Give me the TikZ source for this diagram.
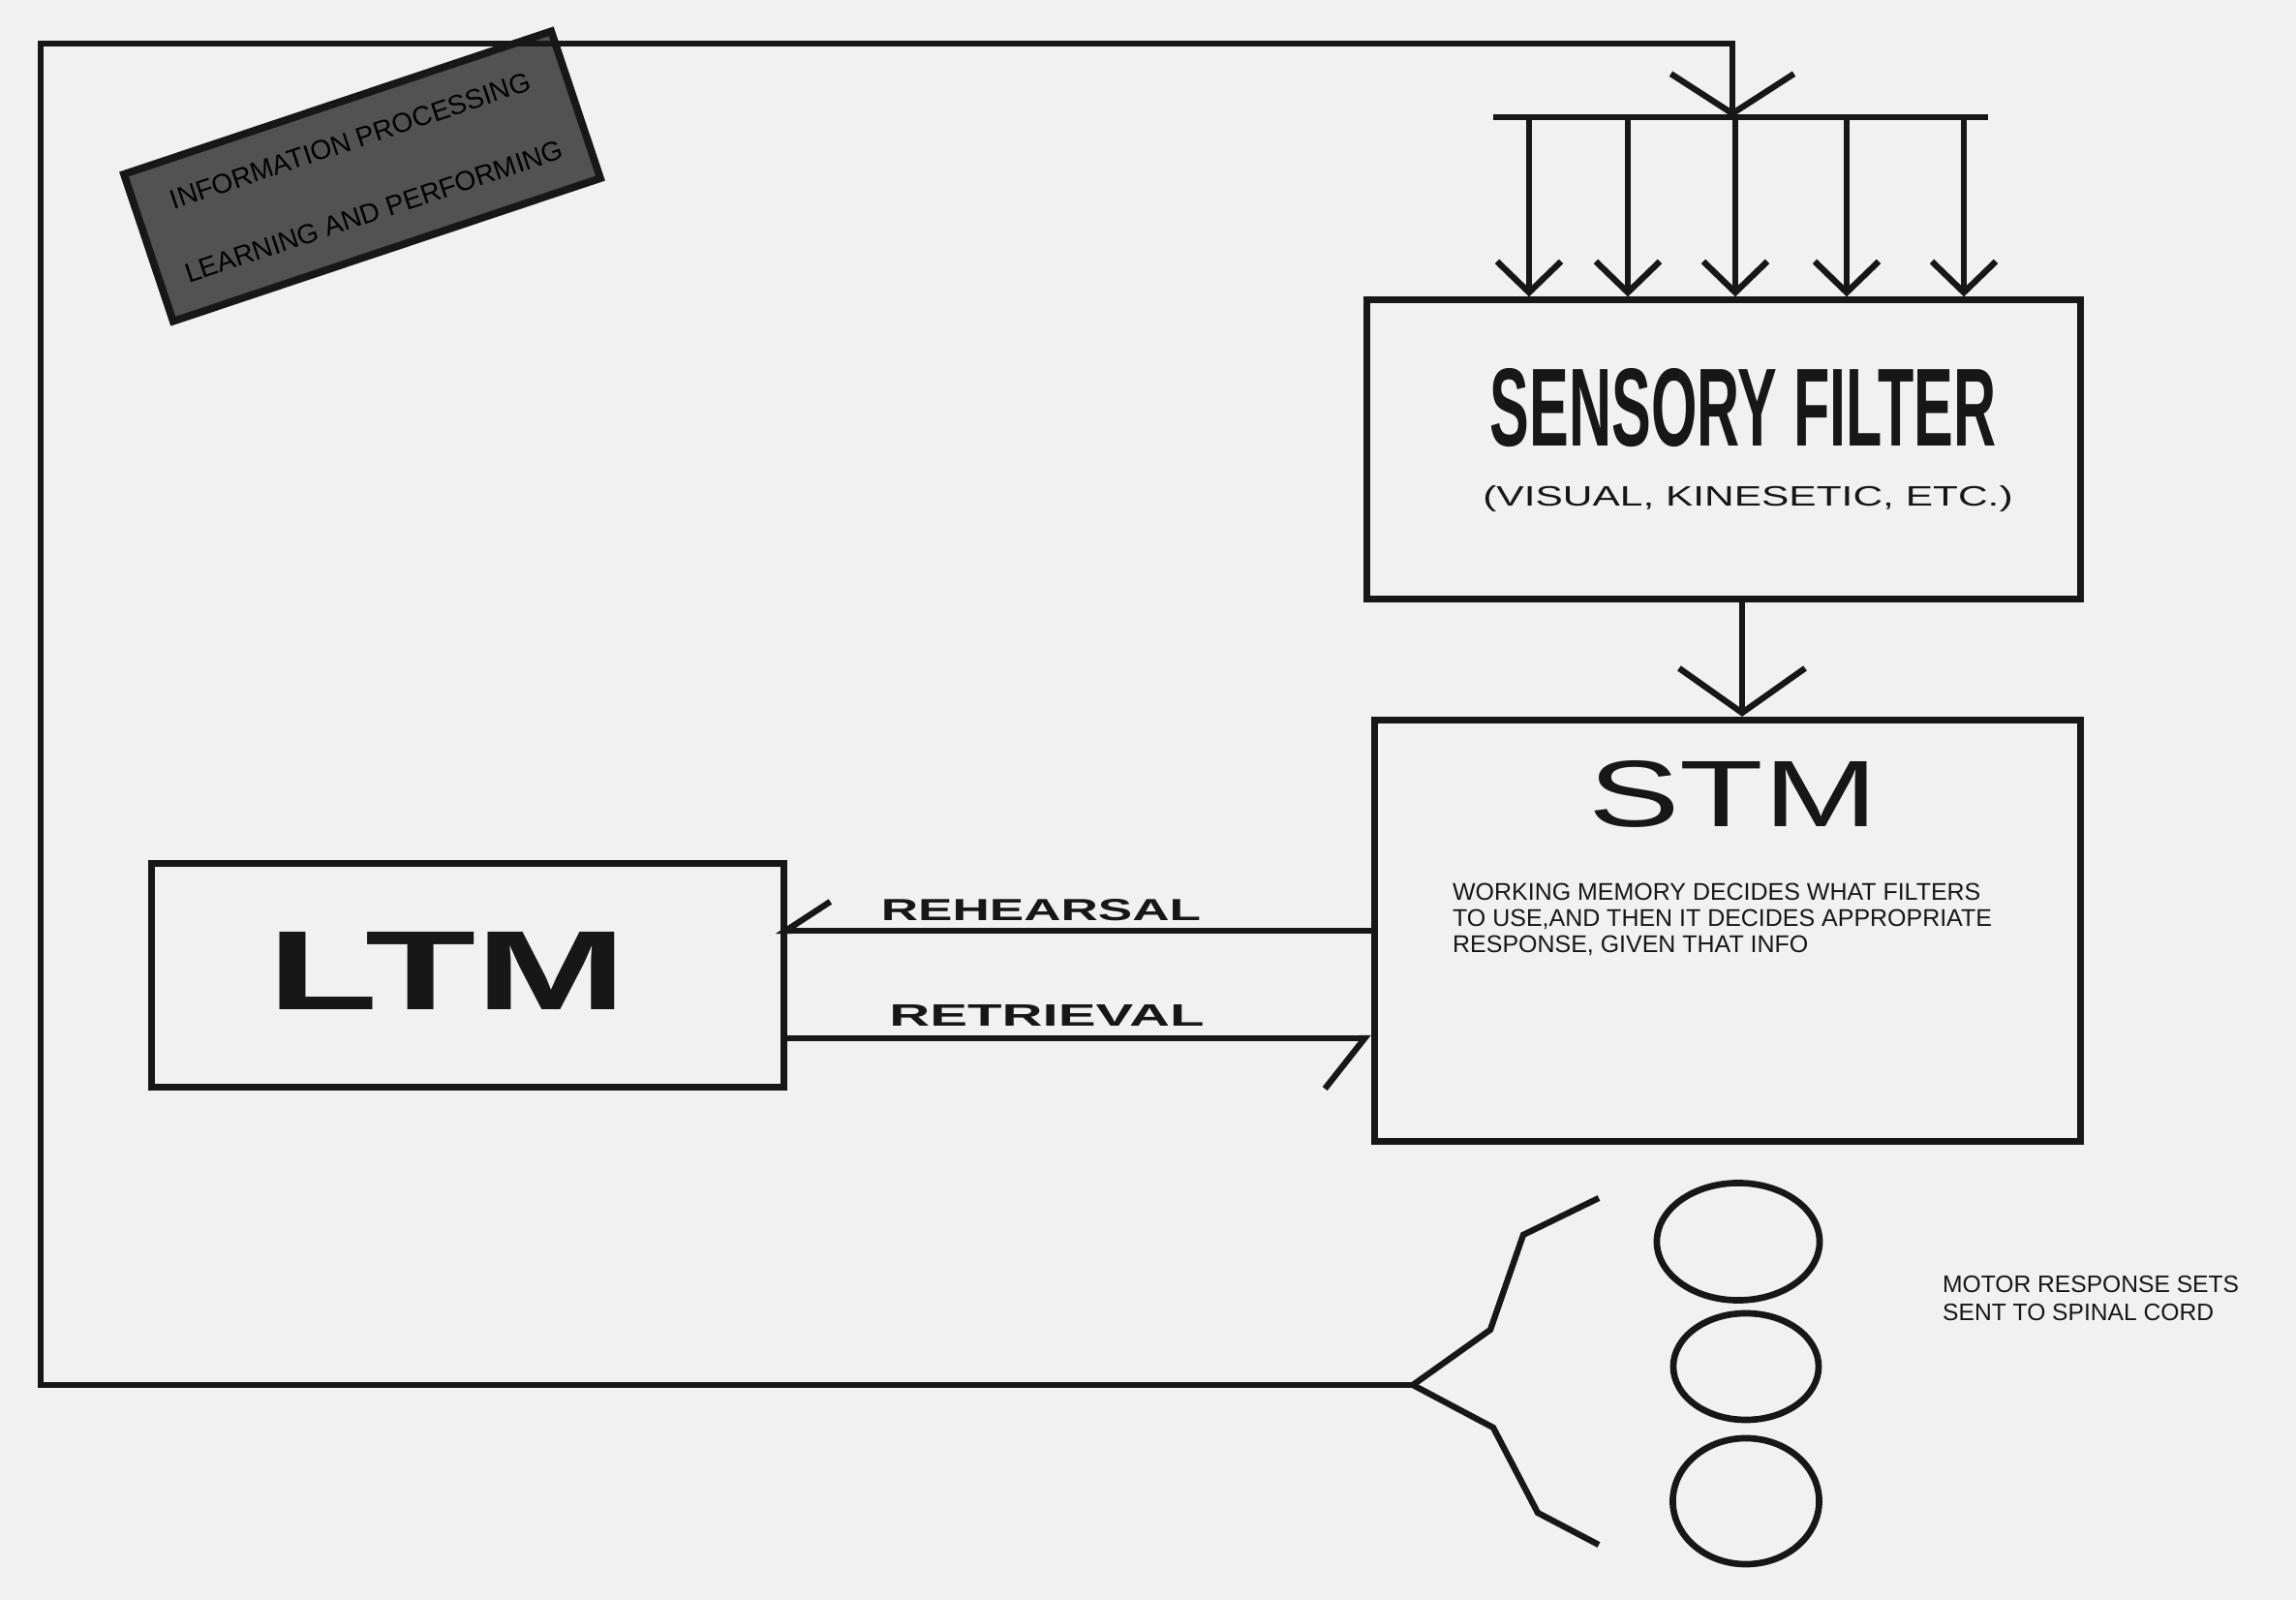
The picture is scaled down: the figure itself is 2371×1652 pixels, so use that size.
\documentclass[tikz,border=0pt]{standalone}
\usepackage{fontspec}
\setmainfont{Liberation Sans}
\usetikzlibrary{arrows.meta,shapes.geometric,positioning}
\definecolor{paper}{gray}{0.945}
\definecolor{ink}{gray}{0.09}
\tikzset{
	defaultstyle/.style={
		x=0.01cm,
		y=-0.01cm,
		color=ink,
		line width=1.8pt,
		line join=miter}}

\begin{document}
\begin{tikzpicture}[defaultstyle,
	membox/.style={draw, line width=2pt, inner sep=0pt},
	wire/.style={draw, line width=1.8pt},
	flow/.style={wire, -{Straight Barb[length=3.2mm, width=6.6mm]}},
	bigflow/.style={wire, -{Straight Barb[length=4.6mm, width=13mm]}},
	rehearse/.style={wire, shorten >=-0.12cm, -{Straight Barb[harpoon, swap, length=4.6mm, width=6mm]}},
	retrieve/.style={wire, -{Straight Barb[harpoon, swap, length=4.1mm, width=10.4mm]}},
	response/.style={ellipse, draw, line width=1.9pt, inner sep=0pt},
	note/.style={inner sep=0pt, anchor=north west, align=left,
		font=\fontsize{7.1}{7.7}\selectfont},
	tag/.style={draw, line width=2.2pt, fill=black!68, text=black,
		minimum width=4.65cm, minimum height=1.6cm, align=center,
		font=\fontsize{8}{22}\selectfont},
	]

	\fill[paper] (0,0) rectangle (2371,1652);

	\node[tag, rotate=18.5] (title) at (374,182) {INFORMATION PROCESSING\\LEARNING AND PERFORMING};

	% boxes
	\node[membox, minimum width=7.37cm, minimum height=3.08cm] (sensory) at (1780,464) {};
	\node[anchor=base] (sensorytitle) at (1800,461) {\resizebox{5.22cm}{0.8cm}{\bfseries SENSORY FILTER}};
	\node[anchor=base] (sensorysub) at (1805,523) {\resizebox{5.47cm}{0.21cm}{(VISUAL, KINESETIC, ETC.)}};

	\node[membox, minimum width=7.29cm, minimum height=4.35cm] (stm) at (1784,961) {};
	\node[anchor=base] (stmtitle) at (1790,854) {\resizebox{2.99cm}{0.68cm}{STM}};
	\node[note] (stmnote) at (1497,909) {WORKING MEMORY DECIDES WHAT FILTERS\\TO USE,AND THEN IT DECIDES APPROPRIATE\\RESPONSE, GIVEN THAT INFO};

	\node[membox, minimum width=6.52cm, minimum height=2.3cm] (ltm) at (483,1007) {};
	\node[anchor=base] (ltmtitle) at (462,1043) {\resizebox{3.7cm}{0.8cm}{\bfseries LTM}};

	% input bar
	\coordinate (barw) at (1542,121);
	\coordinate (bare) at (2053,121);
	\draw[wire] (barw) -- (bare);
	\foreach \x [count=\i] in {1579,1681,1792,1907,2028} {
		\coordinate (bar\i) at (\x,121);
		\draw[flow] (bar\i) -- (bar\i |- sensory.north);
	}

	\draw[bigflow] ([xshift=0.19cm]sensory.south) -- ([xshift=0.19cm]sensory.south |- stm.north);

	\draw[rehearse] (stm.west) -- (stm.west -| ltm.east);
	\node[anchor=base] (rehearsal) at (1075,951) {\resizebox{3.3cm}{0.22cm}{\bfseries REHEARSAL}};
	\draw[retrieve] ([yshift=-0.65cm]ltm.east) -- ([yshift=-0.65cm]ltm.east -| stm.west);
	\node[anchor=base] (retrieval) at (1081,1060) {\resizebox{3.25cm}{0.22cm}{\bfseries RETRIEVAL}};

	% feedback loop
	\coordinate (fork) at (1459,1430);
	\coordinate (in) at (1789,121);
	\draw[wire, -{Straight Barb[length=4.1mm, width=12.7mm]}] (fork) -| (42,45) -| (in);

	\draw[wire] (fork) -- (1539,1373) -- (1573,1275) -- (1651,1237);
	\draw[wire] (fork) -- (1542,1474) -- (1588,1562) -- (1651,1595);

	\node[response, minimum width=1.68cm, minimum height=1.21cm] (set1) at (1795,1282) {};
	\node[response, minimum width=1.5cm, minimum height=1.1cm] (set2) at (1803,1411) {};
	\node[response, minimum width=1.51cm, minimum height=1.3cm] (set3) at (1803,1550) {};

	\node[note, font=\fontsize{7}{8.3}\selectfont] (motor) at (2003,1314) {MOTOR RESPONSE SETS\\SENT TO SPINAL CORD};

\end{tikzpicture}
\end{document}
